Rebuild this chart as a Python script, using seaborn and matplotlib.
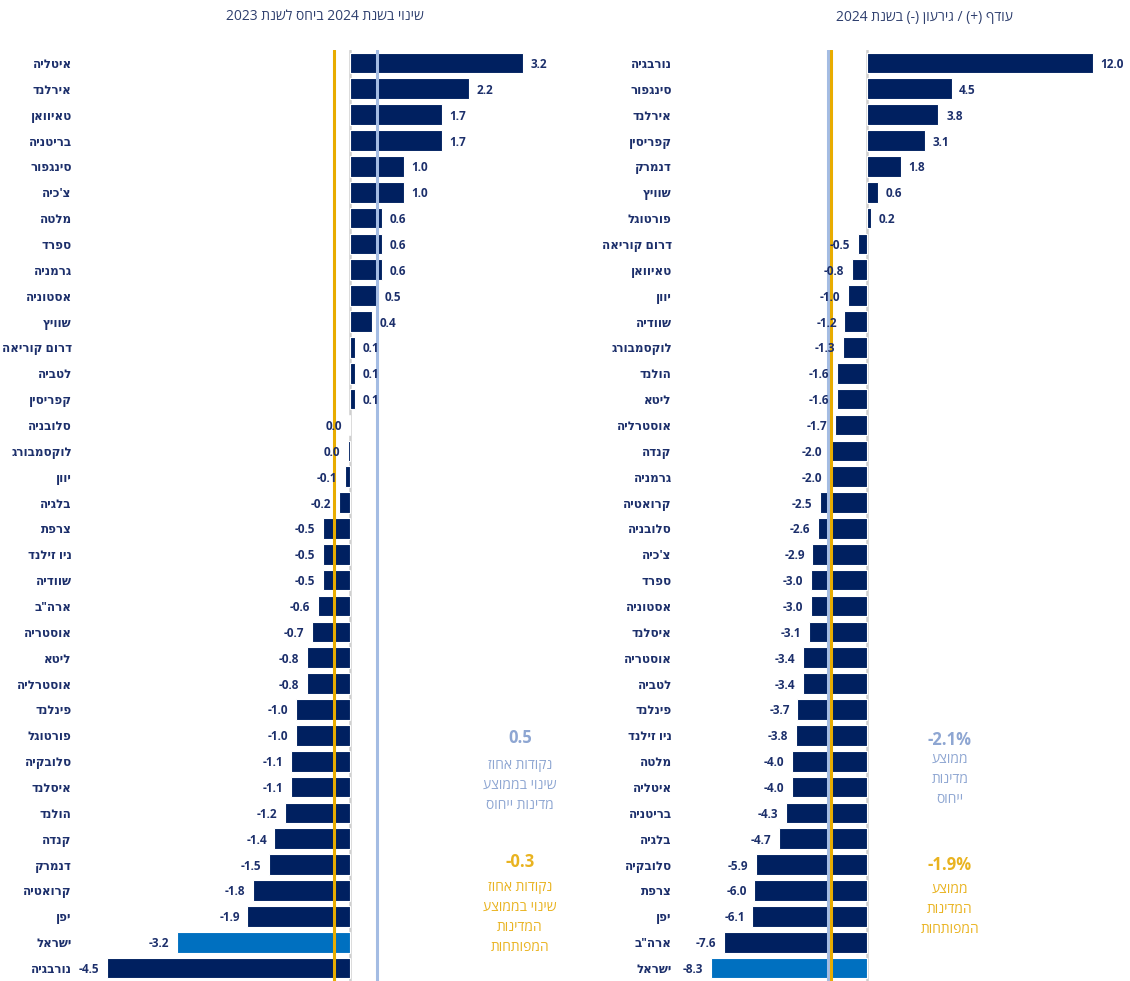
import re
import numpy as np
import pandas as pd
import matplotlib
matplotlib.use("Agg")
import matplotlib.pyplot as plt
import seaborn as sns

# ---------------- data ----------------
left_title = "שינוי בשנת 2024 ביחס לשנת 2023"
left_countries = ["איטליה", "אירלנד", "טאיוואן", "בריטניה", "סינגפור", "צ'כיה", "מלטה", "ספרד",
                  "גרמניה", "אסטוניה", "שוויץ", "דרום קוריאה", "לטביה", "קפריסין", "סלובניה",
                  "לוקסמבורג", "יוון", "בלגיה", "צרפת", "ניו זילנד", "שוודיה", 'ארה"ב', "אוסטריה",
                  "ליטא", "אוסטרליה", "פינלנד", "פורטוגל", "סלובקיה", "איסלנד", "הולנד", "קנדה",
                  "דנמרק", "קרואטיה", "יפן", "ישראל", "נורבגיה"]
left_values = [3.2, 2.2, 1.7, 1.7, 1.0, 1.0, 0.6, 0.6, 0.6, 0.5, 0.4, 0.1, 0.1, 0.1, -0.01,
               -0.04, -0.1, -0.2, -0.5, -0.5, -0.5, -0.6, -0.7, -0.8, -0.8, -1.0, -1.0, -1.1,
               -1.1, -1.2, -1.4, -1.5, -1.8, -1.9, -3.2, -4.5]
left_ref_avg = 0.5
left_dev_avg = -0.3
left_ref_text = ["נקודות אחוז", "שינוי בממוצע", "מדינות ייחוס"]
left_dev_text = ["נקודות אחוז", "שינוי בממוצע", "המדינות", "המפותחות"]

right_title = "עודף (+) / גירעון (-) בשנת 2024"
right_countries = ["נורבגיה", "סינגפור", "אירלנד", "קפריסין", "דנמרק", "שוויץ", "פורטוגל",
                   "דרום קוריאה", "טאיוואן", "יוון", "שוודיה", "לוקסמבורג", "הולנד", "ליטא",
                   "אוסטרליה", "קנדה", "גרמניה", "קרואטיה", "סלובניה", "צ'כיה", "ספרד", "אסטוניה",
                   "איסלנד", "אוסטריה", "לטביה", "פינלנד", "ניו זילנד", "מלטה", "איטליה",
                   "בריטניה", "בלגיה", "סלובקיה", "צרפת", "יפן", 'ארה"ב', "ישראל"]
right_values = [12.0, 4.5, 3.8, 3.1, 1.8, 0.6, 0.2, -0.5, -0.8, -1.0, -1.2, -1.3, -1.6, -1.6,
                -1.7, -2.0, -2.0, -2.5, -2.6, -2.9, -3.0, -3.0, -3.1, -3.4, -3.4, -3.7, -3.8,
                -4.0, -4.0, -4.3, -4.7, -5.9, -6.0, -6.1, -7.6, -8.3]
right_ref_avg = -2.1
right_dev_avg = -1.9
right_ref_text = ["ממוצע", "מדינות", "ייחוס"]
right_dev_text = ["ממוצע", "המדינות", "המפותחות"]

highlight_country = "ישראל"

# ---------------- styles ----------------
NAVY = "#002060"
HIGHLIGHT = "#0070C0"
GOLD = "#E8AC00"
GOLD_TXT = "#E9B320"
LIGHTBLUE = "#A4BCE3"
LIGHTBLUE_TXT = "#8EA6D2"
GRAY = "#CFCFCF"
TITLE_C = "#2E3F6E"
LABEL_C = "#1C2F6B"

sns.set_theme(style="white")
plt.rcParams["font.family"] = ["Open Sans", "DejaVu Sans"]

MIRROR = {"(": ")", ")": "(", "[": "]", "]": "["}


def vis(s):
    """Logical-order Hebrew -> visual order for LTR rendering."""
    toks = re.findall(r"[0-9A-Za-z.,%]+|.", s)
    toks = toks[::-1]
    return "".join(MIRROR.get(t, t) for t in toks)


def fmt(v):
    s = f"{v:.1f}"
    return "0.0" if s == "-0.0" else s


W, H = 1130, 981
fig = plt.figure(figsize=(W / 100, H / 100), dpi=100)


def px_axes(x0, x1, y0, y1):
    return fig.add_axes([x0 / W, 1 - y1 / H, (x1 - x0) / W, (y1 - y0) / H])


def panel(ax, countries, values, ref_avg, dev_avg, xlim):
    df = pd.DataFrame({"country": [vis(c) for c in countries], "value": values})
    sns.barplot(data=df, x="value", y="country", orient="h", color=NAVY, saturation=1,
                width=0.8, edgecolor="white", linewidth=0.8, ax=ax)
    for p, c in zip(ax.patches, countries):
        if c == highlight_country:
            p.set_facecolor(HIGHLIGHT)
    ax.set_xlim(*xlim)
    ax.axvline(0, color=GRAY, lw=1.8, zorder=0.5)
    ax.axvline(ref_avg, color=LIGHTBLUE, lw=2.2, zorder=5)
    ax.axvline(dev_avg, color=GOLD, lw=2.2, zorder=6)
    labs = ax.bar_label(ax.containers[0], labels=[fmt(v) for v in values], padding=5.5,
                        fontsize=8.5, fontweight="bold", color=LABEL_C, zorder=7)
    for t in labs:
        t.set_va("center_baseline")
    ax.set_xlabel("")
    ax.set_ylabel("")
    ax.set_xticks([])
    ax.tick_params(axis="y", length=0, pad=6)
    for t in ax.get_yticklabels():
        t.set_fontweight("bold")
        t.set_color(LABEL_C)
        t.set_fontsize(8.6)
    for s in ax.spines.values():
        s.set_visible(False)
    ax.set_facecolor("none")


# left panel: zero at x=350 px, 54 px per unit
axL = px_axes(80, 560, 50, 981)
panel(axL, left_countries, left_values, left_ref_avg, left_dev_avg,
      ((80 - 350) / 54, (560 - 350) / 54))

# right panel: zero at x=867 px, 18.8 px per unit
axR = px_axes(680, 1125, 50, 981)
panel(axR, right_countries, right_values, right_ref_avg, right_dev_avg,
      ((680 - 867) / 18.8, (1125 - 867) / 18.8))

# titles
fig.text(325 / W, 1 - 17 / H, vis(left_title), ha="center", va="center", fontsize=10, color=TITLE_C)
fig.text(924 / W, 1 - 17 / H, vis(right_title), ha="center", va="center", fontsize=10, color=TITLE_C)


def note(x, y_num, num, lines, color, y_text):
    fig.text(x / W, 1 - y_num / H, num, ha="center", va="center", fontsize=12,
             fontweight="bold", color=color)
    fig.text(x / W, 1 - y_text / H, "\n".join(vis(l) for l in lines), ha="center", va="top",
             fontsize=10, color=color, linespacing=1.45)


note(520, 738, fmt(left_ref_avg), left_ref_text, LIGHTBLUE_TXT, 758)
note(520, 862, fmt(left_dev_avg), left_dev_text, GOLD_TXT, 880)
note(950, 740, f"{right_ref_avg:.1f}%", right_ref_text, LIGHTBLUE_TXT, 752)
note(950, 865, f"{right_dev_avg:.1f}%", right_dev_text, GOLD_TXT, 882)

fig.savefig("out.png", dpi=100, facecolor="white")
